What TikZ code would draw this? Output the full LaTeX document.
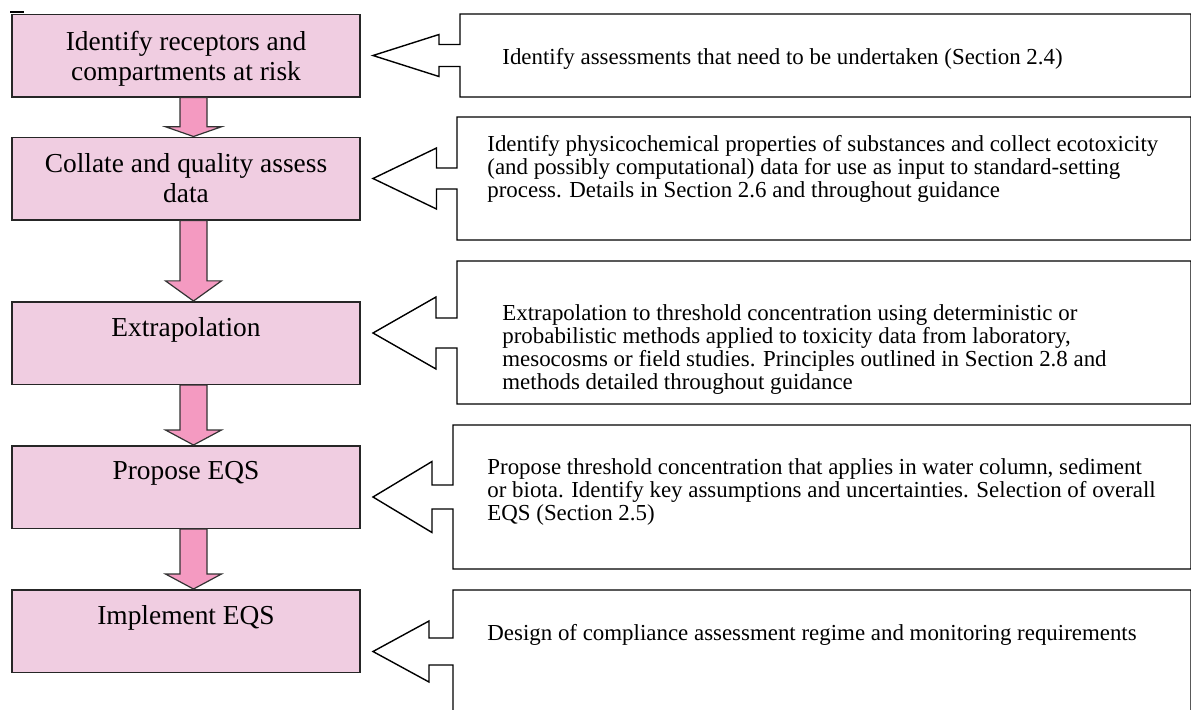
\documentclass[tikz,border=0pt]{standalone}
\usepackage{fontspec}
\setmainfont{Liberation Serif}
\usetikzlibrary{calc}

\definecolor{stagefill}{RGB}{240,205,225}
\definecolor{flowpink}{RGB}{244,154,193}

\tikzset{
  stagebox/.style={draw=black!85, line width=0.75pt, fill=stagefill,
    minimum width=174pt, minimum height=41.25pt, inner sep=0pt},
  stagetext/.style={font=\fontsize{13.7}{15.25}\selectfont, align=center,
    anchor=north, inner sep=0pt},
  calloutline/.style={draw=black, line width=0.7pt, fill=white, line join=miter},
  callouttext/.style={font=\fontsize{11.45}{11.5}\selectfont, align=left,
    anchor=north west, inner sep=0pt},
  flowarrow/.style={draw=black!80, line width=0.6pt, fill=flowpink},
}

% block arrow from the bottom of one stage to the top of the next
\newcommand\flowstep[2]{%
  \path[flowarrow] let \p1=($(#1.south)+(7.5,0)$), \p2=($(#2.north)+(7.5,0)$),
      \p3=($(\p1)!0.75!(\p2)$) in
    (\x1-6.75pt,\y1) -- (\x1-6.75pt,\y3) -- (\x1-14pt,\y3) -- (\x2,\y2)
    -- (\x1+14pt,\y3) -- (\x1+6.75pt,\y3) -- (\x1+6.75pt,\y1) -- cycle;}

% left-pointing callout: left edge, top, bottom, axis, shaft half, head half, neck x
\newcommand\leftcallout[7]{%
  \path[calloutline] (#1,#2) -- (1191,#2) -- (1191,#3) -- (#1,#3)
    -- (#1,#4+#5) -- (#7,#4+#5) -- (#7,#4+#6) -- (373,#4)
    -- (#7,#4-#6) -- (#7,#4-#5) -- (#1,#4-#5) -- cycle;}

\begin{document}
\begin{tikzpicture}[x=0.5pt,y=-0.5pt]
  \useasboundingbox (0,0) rectangle (1191,709);
  \clip (0,0) rectangle (1191,709);

  % stage boxes
  \node[stagebox] (b1) at (186,55.5) {};
  \node[stagebox] (b2) at (186,178.5) {};
  \node[stagebox] (b3) at (186,343) {};
  \node[stagebox] (b4) at (186,487) {};
  \node[stagebox] (b5) at (186,631) {};

  \node[stagetext] (t1) at ($(b1.north)+(0,17.3)$) {Identify receptors and\\compartments at risk};
  \node[stagetext] (t2) at ($(b2.north)+(0,16.3)$) {Collate and quality assess\\data};
  \node[stagetext] (t3) at ($(b3.north)+(0,16.3)$) {Extrapolation};
  \node[stagetext] (t4) at ($(b4.north)+(0,15.8)$) {Propose EQS};
  \node[stagetext] (t5) at ($(b5.north)+(0,16.3)$) {Implement EQS};

  % short rule above the first box
  \draw[line width=1.1pt] (10,12) -- (24,12);

  % flow between stages
  \flowstep{b1}{b2}
  \flowstep{b2}{b3}
  \flowstep{b3}{b4}
  \flowstep{b4}{b5}

  % callouts
  \leftcallout{460}{14}{97}{55.5}{11}{21}{439}
  \leftcallout{457}{117}{240}{178.5}{10.5}{30.5}{436.5}
  \leftcallout{457}{261}{404}{333}{15}{36}{436}
  \leftcallout{453}{425}{569}{497}{12}{35.5}{432}
  \leftcallout{453}{590}{712}{651.5}{13.5}{30.5}{429}

  \node[callouttext] (c1) at (502,48.4) {Identify assessments that need to be undertaken (Section 2.4)};
  \node[callouttext] (c2) at (487,135.4) {Identify physicochemical properties of substances and collect ecotoxicity\\(and possibly computational) data for use as input to standard-setting\\process. Details in Section 2.6 and throughout guidance};
  \node[callouttext] (c3) at (502,304.4) {Extrapolation to threshold concentration using deterministic or\\probabilistic methods applied to toxicity data from laboratory,\\mesocosms or field studies. Principles outlined in Section 2.8 and\\methods detailed throughout guidance};
  \node[callouttext] (c4) at (487,458.4) {Propose threshold concentration that applies in water column, sediment\\or biota. Identify key assumptions and uncertainties. Selection of overall\\EQS (Section 2.5)};
  \node[callouttext] (c5) at (487,624.4) {Design of compliance assessment regime and monitoring requirements};
\end{tikzpicture}
\end{document}
